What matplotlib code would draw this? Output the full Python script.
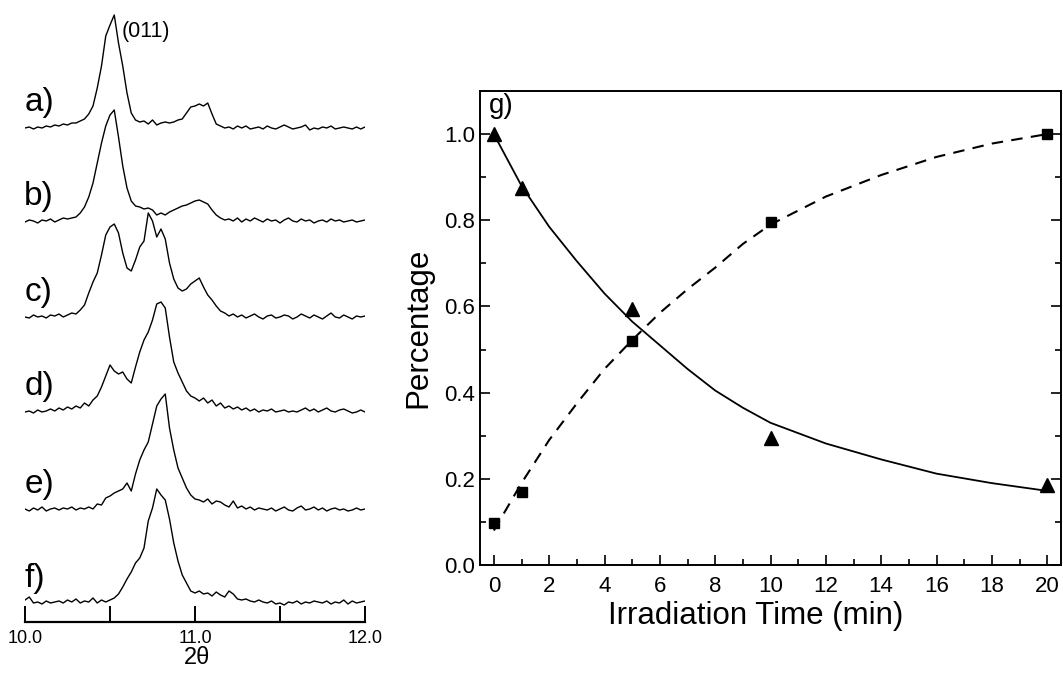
import numpy as np
import matplotlib.pyplot as plt
from matplotlib.ticker import MultipleLocator, FormatStrFormatter

plt.rcParams['font.family'] = ['Liberation Sans', 'DejaVu Sans']

# XRD patterns (arb. units above each baseline), 2theta 10.0 .. 12.0, step 0.025
two_theta = np.linspace(10.0, 12.0, 81)
xrd_a = [0, 1, -1, 1, 0, 2, 1, 3, 2, 4, 3, 5, 5, 7, 9, 14, 22, 40, 62, 92,
         103, 113, 85, 62, 35, 15, 8, 6, 7, 4, 8, 3, 5, 6, 5, 6, 8, 9, 15, 21,
         22, 24, 22, 25, 14, 4, 2, 0, 1, -1, 2, 0, 2, -1, 0, 1, -1, 2, 0, -1,
         1, 3, 1, -1, 0, 1, 3, -2, 0, -1, 1, 0, 2, -1, 0, 1, 0, -1, 1, -1, 1]
xrd_b = [-1, 1, 0, -2, 1, 0, 2, -1, 1, 3, 2, 3, 4, 8, 14, 24, 38, 58, 78, 95,
         106, 111, 84, 55, 33, 20, 15, 14, 12, 13, 11, 6, 8, 6, 9, 11, 13, 15, 16, 18,
         20, 21, 19, 17, 11, 6, 3, 1, 2, 0, 3, -1, 2, 0, 3, 1, -1, 2, 0, 1,
         -2, 1, 3, 0, -1, 2, 0, 1, -2, 0, 1, -1, 2, 0, 1, -1, 0, 1, -1, 0, 1]
xrd_c = [0, -1, 2, 0, 1, -1, 2, 1, 3, 0, 2, 4, 3, 7, 12, 24, 35, 44, 62, 82,
         90, 93, 84, 64, 49, 46, 57, 70, 76, 104, 96, 80, 88, 78, 54, 38, 29, 26, 28, 33,
         36, 39, 30, 22, 17, 11, 6, 4, 1, 3, 0, 2, -1, 1, 3, 0, -2, 1, 2, -1,
         0, 2, 1, -2, 0, 3, 1, -1, 2, 0, -2, 1, 4, 0, -1, 2, 0, -2, 1, 0, 1]
xrd_d = [0, 1, -1, 2, 0, 1, 3, 1, 4, 2, 5, 3, 6, 4, 9, 6, 12, 16, 25, 36,
         47, 41, 38, 40, 33, 29, 45, 60, 72, 80, 92, 108, 110, 104, 75, 50, 39, 30, 21, 16,
         14, 11, 14, 9, 12, 6, 9, 4, 6, 3, 5, 2, 4, 1, 3, 0, 2, 1, 3, 0,
         1, 2, 0, 1, 0, 2, 4, 1, 3, 0, 2, 4, 1, 0, 2, 3, 1, -1, 0, 2, 0]
xrd_e = [1, -1, 2, 0, 3, -1, 1, 2, 0, 2, 1, 3, 0, 2, 1, 3, 1, 6, 5, 12,
         14, 17, 19, 21, 27, 19, 36, 50, 60, 68, 86, 104, 111, 116, 82, 60, 42, 32, 22, 15,
         11, 10, 8, 11, 6, 9, 8, 5, 3, 9, 2, 4, 1, 3, 0, 2, 1, 0, 2, -1,
         1, 3, 0, -1, 2, 4, 0, 1, 3, 0, 2, -1, 1, 2, 0, 1, -1, 0, 2, 0, 1]
xrd_f = [3, 6, 0, 1, -1, 2, 0, 1, 2, 0, 3, 1, 4, 0, 2, 1, 5, 0, 3, 1,
         3, 5, 9, 16, 24, 31, 40, 45, 55, 82, 95, 114, 108, 103, 84, 60, 42, 28, 20, 12,
         10, 12, 9, 10, 7, 11, 8, 6, 12, 9, 4, 3, 4, 2, 1, 3, 1, 0, 2, -1,
         0, -2, 1, 0, 2, -1, 1, 0, 2, 1, 0, 2, -1, 1, 0, 3, -1, 2, 0, 1, 2]
patterns = [xrd_a, xrd_b, xrd_c, xrd_d, xrd_e, xrd_f]
pattern_labels = ['a)', 'b)', 'c)', 'd)', 'e)', 'f)']
offsets = [494, 401, 305, 210, 112, 19]

# phase fraction vs irradiation time
irr_time = [0, 1, 5, 10, 20]
frac_tri = [1.0, 0.875, 0.593, 0.295, 0.186]
frac_sq = [0.098, 0.17, 0.519, 0.797, 1.0]

# fitted curves
fit_time = [0, 1, 2, 3, 4, 5, 6, 7, 8, 9, 10, 12, 14, 16, 18, 20]
fit_tri = [1.0, 0.88, 0.785, 0.705, 0.63, 0.565, 0.51, 0.455, 0.405, 0.365,
           0.33, 0.282, 0.245, 0.212, 0.19, 0.172]
fit_sq = [0.08, 0.19, 0.29, 0.375, 0.455, 0.522, 0.585, 0.64, 0.69, 0.745,
          0.79, 0.855, 0.905, 0.947, 0.978, 1.0]

W, H = 1063, 675
fig = plt.figure(figsize=(W / 100, H / 100), dpi=100)

# left panel: stacked XRD patterns
ax1 = fig.add_axes([25 / W, (H - 622) / H, 340 / W, 622 / H])
for y, off, lab in zip(patterns, offsets, pattern_labels):
    ax1.plot(two_theta, np.array(y) + off, color='black', lw=1.0)
    ax1.text(9.995, off + 25, lab, fontsize=24, ha='left', va='center')
ax1.text(10.57, 591, '(011)', fontsize=15.5, ha='left', va='center')
ax1.set_xlim(10.0, 12.0)
ax1.set_ylim(0, 622)
for s in ['left', 'right', 'top']:
    ax1.spines[s].set_visible(False)
ax1.spines['bottom'].set_linewidth(1.6)
ax1.set_yticks([])
ax1.set_xticks([10.0, 10.5, 11.0, 11.5, 12.0])
ax1.set_xticklabels(['10.0', '', '11.0', '', '12.0'])
ax1.tick_params(axis='x', direction='in', length=11.5, width=1.4, pad=6,
                labelsize=13)
ax1.text(11.01, -36, '2θ', fontsize=17, ha='center', va='center',
         clip_on=False)

# right panel
ax2 = fig.add_axes([480 / W, (H - 565) / H, 581 / W, 474 / H])
ax2.plot(fit_time, fit_tri, color='black', lw=1.3)
ax2.plot(fit_time, fit_sq, color='black', lw=1.5, ls=(0, (5.5, 4)))
ax2.plot(irr_time, frac_tri, '^', color='black', ms=9.5)
ax2.plot(irr_time, frac_sq, 's', color='black', ms=7)
ax2.set_xlim(-0.5, 20.5)
ax2.set_ylim(0, 1.1)
ax2.xaxis.set_major_locator(MultipleLocator(2))
ax2.xaxis.set_minor_locator(MultipleLocator(1))
ax2.yaxis.set_major_locator(MultipleLocator(0.2))
ax2.yaxis.set_minor_locator(MultipleLocator(0.1))
ax2.yaxis.set_major_formatter(FormatStrFormatter('%.1f'))
ax2.tick_params(which='both', direction='in', top=False, right=True,
                labelsize=16, width=1.2)
ax2.tick_params(which='major', length=7)
ax2.tick_params(which='minor', length=4)
ax2.tick_params(axis='x', pad=8)
for s in ax2.spines.values():
    s.set_linewidth(1.4)
ax2.set_xlabel('Irradiation Time (min)', fontsize=22.5, labelpad=3)
ax2.xaxis.set_label_coords(0.474, -0.075)
ax2.set_ylabel('Percentage', fontsize=22.5, labelpad=8)
ax2.text(0.015, 0.995, 'g)', transform=ax2.transAxes, fontsize=20,
         ha='left', va='top')

fig.savefig('out.png', dpi=100)
